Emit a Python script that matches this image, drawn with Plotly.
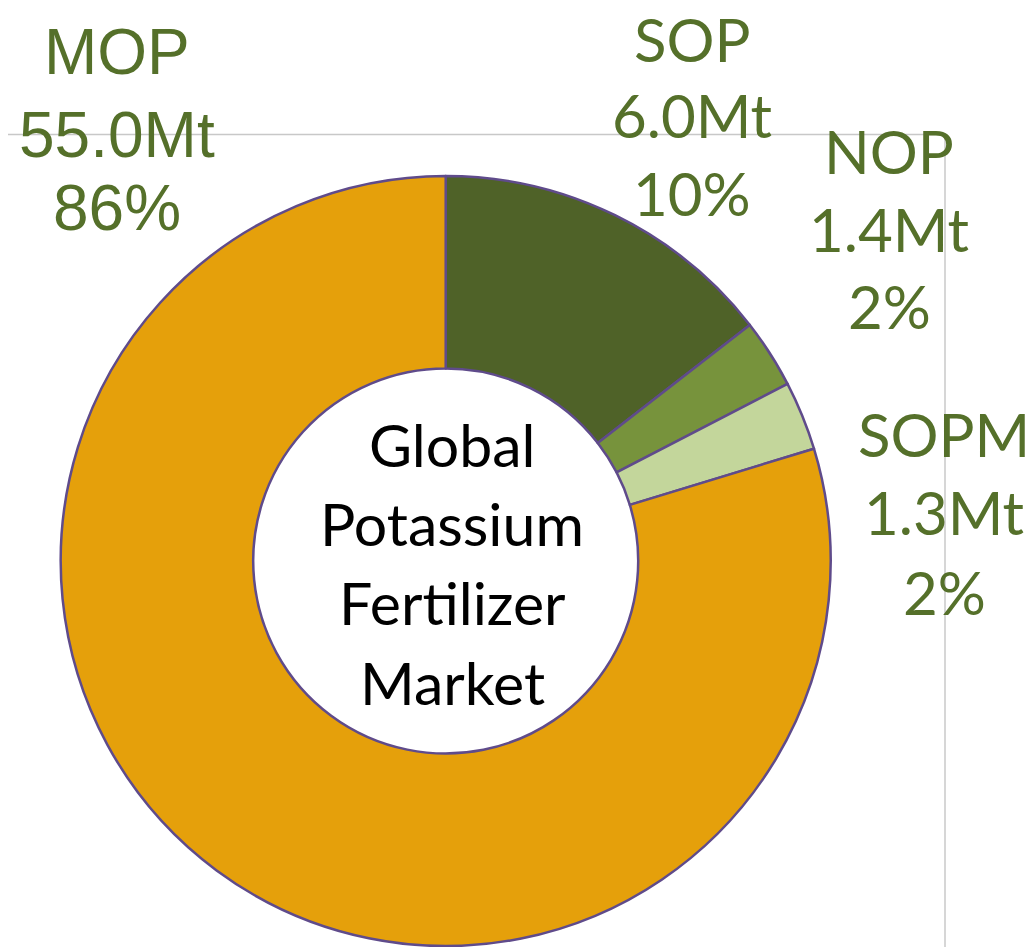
import plotly.graph_objects as go

# ---- data ----
categories = ["SOP", "NOP", "SOPM", "MOP"]
volume_mt = [6.0, 1.4, 1.3, 55.0]          # labelled volumes (Mt)
pct_labels = ["10%", "2%", "2%", "86%"]     # labelled shares
slice_share = [10, 2, 2, 55]                # sizes of the drawn slices
center_lines = ["Global", "Potassium", "Fertilizer", "Market"]

# ---- styles ----
slice_colors = ["#4F6228", "#77933C", "#C3D69B", "#E5A00B"]
label_color = "#55702A"
W, H = 1034, 947

# pie geometry in pixels
cx, cy, r = 445.7, 561, 385

fig = go.Figure()
fig.add_trace(go.Pie(
    labels=categories,
    values=slice_share,
    sort=False,
    direction="clockwise",
    rotation=0,
    hole=0.5,
    textinfo="none",
    hoverinfo="label+value",
    marker=dict(colors=slice_colors, line=dict(color="#5F4B8B", width=2.5)),
    domain=dict(x=[(cx - r) / W, (cx + r) / W],
                y=[(H - cy - r) / H, (H - cy + r) / H]),
    showlegend=False,
))

# label placement (pixel centres of each line)
label_pos = {
    "MOP": (117, [52, 135, 208], "Liberation Sans, Arial, sans-serif", 64),
    "SOP": (692, [39, 115, 193], "Lato", 60),
    "NOP": (889, [151, 229, 306], "Lato", 60),
    "SOPM": (944, [434, 512, 592], "Lato", 60),
}

annotations = []
for cat, mt, pct in zip(categories, volume_mt, pct_labels):
    x, ys, fam, size = label_pos[cat]
    for txt, y in zip([cat, f"{mt:.1f}Mt", pct], ys):
        annotations.append(dict(
            x=x / W, y=1 - y / H, xref="paper", yref="paper",
            text=txt, showarrow=False, xanchor="center", yanchor="middle",
            borderpad=0,
            font=dict(family=fam, size=size, color=label_color),
        ))

center_ys = [444, 523, 602, 682]
for txt, y in zip(center_lines, center_ys):
    annotations.append(dict(
        x=452 / W, y=1 - y / H, xref="paper", yref="paper",
        text=txt, showarrow=False, xanchor="center", yanchor="middle",
        font=dict(family="Lato", size=59, color="#000000"),
    ))

shapes = [
    dict(type="line", xref="paper", yref="paper",
         x0=8 / W, x1=945 / W, y0=1 - 134.5 / H, y1=1 - 134.5 / H,
         line=dict(color="#C8C8C8", width=1.5), layer="below"),
    dict(type="line", xref="paper", yref="paper",
         x0=945 / W, x1=945 / W, y0=1 - 134.5 / H, y1=0,
         line=dict(color="#C8C8C8", width=1.5), layer="below"),
]

fig.update_layout(
    width=W, height=H,
    margin=dict(l=0, r=0, t=0, b=0),
    paper_bgcolor="white", plot_bgcolor="white",
    annotations=annotations,
    shapes=shapes,
)

fig.write_html("out.html",
               config={"displayModeBar": False},
               post_script="document.body.style.margin='0';document.body.style.overflow='hidden';")
